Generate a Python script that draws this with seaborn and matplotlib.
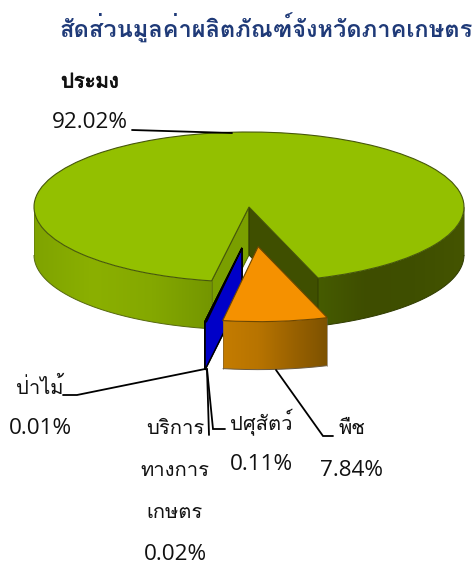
import numpy as np
import matplotlib
matplotlib.use('Agg')
import matplotlib.pyplot as plt
import matplotlib.colors as mc
import matplotlib.patheffects as pe
from matplotlib.patches import Polygon
import seaborn as sns

# ---- data ----
labels = ['ประมง', 'พืช', 'ปศุสัตว์', 'บริการทางการเกษตร', 'ป่าไม้']
values = [92.02, 7.84, 0.11, 0.02, 0.01]
pct_labels = ['92.02%', '7.84%', '0.11%', '0.02%', '0.01%']
title = 'สัดส่วนมูลค่าผลิตภัณฑ์จังหวัดภาคเกษตร'

# ---- styles / layout ----
sns.set_theme(style='white')
plt.rcParams['font.family'] = ['Loma', 'DejaVu Sans']
NUM_FONT = ['Open Sans', 'DejaVu Sans']
W, H = 477, 567
CX, CY, RX, RY = 249, 207, 215, 75
DEPTH = 48 / RY
top_colors = ['#93c000', '#f59100', '#0000c8', '#0000c8', '#0000c8']
START = 260

fig = plt.figure(figsize=(W / 100, H / 100), dpi=100)
ax = fig.add_axes([0, 0, 1, 1])
wedges, _ = ax.pie(values, colors=top_colors, startangle=START, counterclock=False,
                   explode=[0, 0.53, 0, 0, 0], radius=1, normalize=True,
                   wedgeprops=dict(linewidth=0.8))
ax.set_aspect('auto')
xlim = (-CX / RX, (W - CX) / RX)
ylim = (-(H - CY) / RY, CY / RY)
ax.axis('off')


def rim(center, a0, a1, stops, edge, z):
    """Outer wall between two angles (degrees), shaded left to right."""
    th = np.radians(np.linspace(a0, a1, 200))
    xs = center[0] + np.cos(th)
    ys = center[1] + np.sin(th)
    verts = np.r_[np.c_[xs, ys], np.c_[xs[::-1], ys[::-1] - DEPTH]]
    clip = Polygon(verts, closed=True, facecolor='none', edgecolor='none', zorder=z)
    ax.add_patch(clip)
    cmap = mc.LinearSegmentedColormap.from_list('wall', stops)
    im = ax.imshow(np.linspace(0, 1, 256)[None, :], cmap=cmap, aspect='auto',
                   extent=(xs.min(), xs.max(), (ys - DEPTH).min(), ys.max()),
                   interpolation='bilinear', zorder=z)
    im.set_clip_path(clip)
    ax.plot(xs, ys - DEPTH, color=edge, lw=0.7, zorder=z + 0.1, solid_capstyle='butt')
    ax.plot([xs[0], xs[0]], [ys[0], ys[0] - DEPTH], color=edge, lw=0.5, alpha=.7, zorder=z + 0.1)
    ax.plot([xs[-1], xs[-1]], [ys[-1], ys[-1] - DEPTH], color=edge, lw=0.5, alpha=.7, zorder=z + 0.1)


def cut_wall(center, ang, color, edge, z, lw=0.7):
    """Flat radial wall from the apex to the rim at a given angle."""
    cx_, cy_ = center
    x1, y1 = cx_ + np.cos(np.radians(ang)), cy_ + np.sin(np.radians(ang))
    ax.fill([cx_, x1, x1, cx_], [cy_, y1, y1 - DEPTH, cy_ - DEPTH],
            facecolor=color, edgecolor=edge, lw=lw, zorder=z)


# main slice: theta1 / theta2 are the two cut faces
main, crop, *tiny = wedges
a_right, a_left = main.theta1 % 360, main.theta2 % 360
c0 = main.center
rim(c0, 180, a_left, ['#7fa300', '#8bb000', '#84a800', '#749600'], '#56690f', 2)
rim(c0, a_right, 360, ['#465c00', '#3e4d00', '#3f4f00', '#445400'], '#2f3b00', 2)
cut_wall(c0, a_left, '#7a9f00', '#4f6300', 1)
cut_wall(c0, a_right, '#3f4f00', '#2f3b00', 1)
main.set_edgecolor('#46570a')
main.set_zorder(3)

# tiny slices: pulled out together, only their flat wall shows
tiny_center = ((242 - CX) / RX, -(248 - CY) / RY)
for w in tiny:
    w.set_center(tiny_center)
    w.set_edgecolor('#000000')
    w.set_zorder(5)
cut_wall(tiny_center, tiny[-1].theta2 % 360, '#0000c8', '#000000', 4, lw=1.1)
cut_wall(tiny_center, tiny[0].theta1 % 360, '#0000c8', '#000000', 4, lw=1.1)

# exploded crop slice
rim(crop.center, crop.theta1 % 360, crop.theta2 % 360,
    ['#c47c00', '#b87400', '#9a6200', '#7d5200'], '#6a5a40', 6)
crop.set_edgecolor('#6e4700')
crop.set_zorder(7)

ax.set_xlim(*xlim)
ax.set_ylim(*ylim)

# ---- overlay in pixel space for text and leader lines ----
ov = fig.add_axes([0, 0, 1, 1], facecolor='none')
ov.set_xlim(0, W)
ov.set_ylim(H, 0)
ov.axis('off')

ov.text(266.5, 28, title, color='#1f3a78', fontsize=17.0, fontweight='bold', ha='center', va='center')

leaders = [
    ([132, 232], [130, 133]),
    ([63, 77, 205], [395, 395, 369]),
    ([209, 207], [435, 369]),
    ([225, 213, 207], [429, 429, 369]),
    ([333, 323, 276], [436, 436, 370]),
]
for xs, ys in leaders:
    ov.plot(xs, ys, color='black', lw=1.3, solid_joinstyle='miter', zorder=9)

NAME_FS = 14.5
PCT_FS = 16.2
names = [
    (90, 82, labels[0]),
    (352, 429, labels[1]),
    (261, 422, labels[2]),
    (175, 428, 'บริการ'),
    (175, 471, 'ทางการ'),
    (175, 513, 'เกษตร'),
    (40, 387, labels[4]),
]
for x, y, s in names:
    t = ov.text(x, y, s, fontsize=NAME_FS, color='#111111', ha='center', va='center')
    if s == labels[0]:
        t.set_path_effects([pe.withStroke(linewidth=0.6, foreground='#111111')])
pcts = [
    (90, 122, pct_labels[0]),
    (352, 470, pct_labels[1]),
    (261, 464, pct_labels[2]),
    (175, 554, pct_labels[3]),
    (40, 428, pct_labels[4]),
]
for x, y, s in pcts:
    ov.text(x, y, s, fontsize=PCT_FS, family=NUM_FONT, color='#111111', ha='center', va='center')

fig.savefig('out.png', dpi=100)
